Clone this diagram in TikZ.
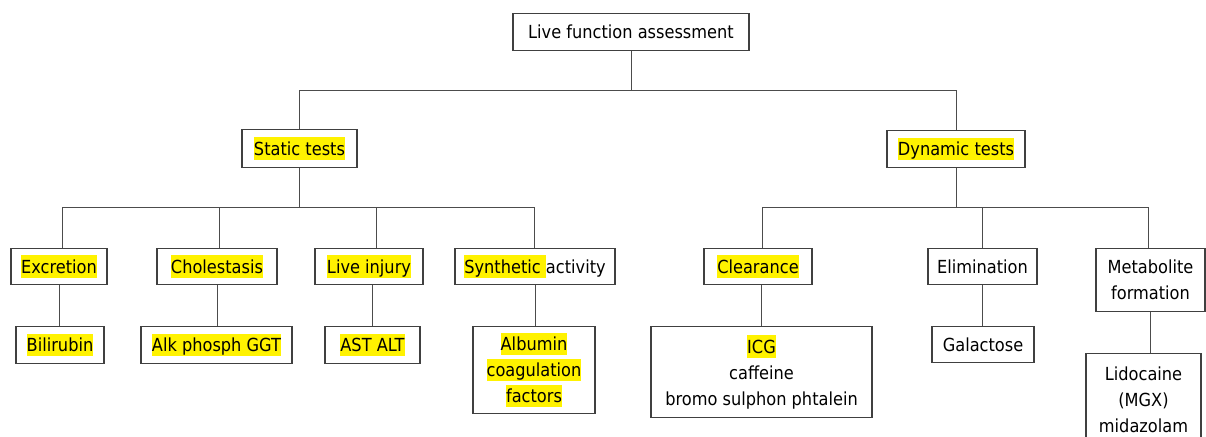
\documentclass[tikz,border=0pt]{standalone}
\usepackage{fontspec}
\setmainfont{DejaVu Sans}[FakeStretch=0.9]
\usepackage{xcolor}
\newcommand\hlt[1]{\begingroup\setlength{\fboxsep}{0pt}\colorbox{yellow}{\rule[-4.5pt]{0pt}{22.5pt}#1}\endgroup}
\tikzset{
  box/.style={draw=black!75, line width=1.1pt, fill=white, inner sep=0pt, align=center,
    font=\fontsize{18}{26}\selectfont, anchor=north},
  link/.style={draw=black!70, line width=1pt}
}
\begin{document}
\begin{tikzpicture}[x=1pt,y=-1pt]
\useasboundingbox (0,0) rectangle (1206,436);
\fill[white] (0,0) rectangle (1206,436);
\clip (0,0) rectangle (1206,436);

% level 0
\node[box, minimum width=236pt, minimum height=37pt] (top) at (631,13) {Live function assessment};
% level 1
\node[box, minimum width=115pt, minimum height=38pt] (static) at (299.5,129) {\hlt{Static tests}};
\node[box, minimum width=138pt, minimum height=37pt] (dynamic) at (956,130) {\hlt{Dynamic tests}};
% level 2
\node[box, minimum width=96pt, minimum height=36pt] (excr) at (59,248) {\hlt{Excretion}};
\node[box, minimum width=120pt, minimum height=36pt] (chol) at (217,248) {\hlt{Cholestasis}};
\node[box, minimum width=108pt, minimum height=36pt] (liveinj) at (369,248) {\hlt{Live injury}};
\node[box, minimum width=160pt, minimum height=36pt] (synth) at (535,248) {\hlt{Synthetic\ }activity};
\node[box, minimum width=108pt, minimum height=36pt] (clear) at (758,248) {\hlt{Clearance}};
\node[box, minimum width=109pt, minimum height=36pt] (elim) at (982.5,248) {Elimination};
\node[box, minimum width=109pt, minimum height=63pt] (metab) at (1150.5,248) {Metabolite\\formation};
% level 3
\node[box, minimum width=88pt, minimum height=37pt] (bili) at (60,326) {\hlt{Bilirubin}};
\node[box, minimum width=151pt, minimum height=37pt] (alk) at (216.5,326) {\hlt{Alk phosph GGT}};
\node[box, minimum width=95pt, minimum height=37pt] (ast) at (372.5,326) {\hlt{AST ALT}};
\node[box, minimum width=122pt, minimum height=87pt] (alb) at (534,326) {\hlt{Albumin}\\\hlt{coagulation}\\\hlt{factors}};
\node[box, minimum width=221pt, minimum height=91pt] (icg) at (761.5,326) {\hlt{ICG}\\caffeine\\bromo sulphon phtalein};
\node[box, minimum width=102pt, minimum height=36pt] (gal) at (983,326) {Galactose};
\node[box, minimum width=115pt, minimum height=92pt] (lido) at (1143.5,353) {Lidocaine\\(MGX)\\midazolam};

% connectors level 0-1
\draw[link] (top.south) -- ++(0,39) coordinate (b1);
\draw[link] (static.north) |- (b1) -| (dynamic.north);
% static branch
\draw[link] (static.south) -- ++(0,40);
\draw[link] ([xshift=3pt]excr.north) -- ++(0,-41) -| ([xshift=-1pt]synth.north);
\draw[link] ([xshift=2pt]chol.north) -- ++(0,-41);
\draw[link] ([xshift=7pt]liveinj.north) -- ++(0,-41);
% dynamic branch
\draw[link] (dynamic.south) -- ++(0,40);
\draw[link] ([xshift=4pt]clear.north) -- ++(0,-41) -| ([xshift=-2.5pt]metab.north);
\draw[link] (elim.north) -- ++(0,-41);
% level 2-3
\draw[link] (excr.south) -- (excr.south |- bili.north);
\draw[link] (chol.south) -- (chol.south |- alk.north);
\draw[link] (ast.north) -- (ast.north |- liveinj.south);
\draw[link] (synth.south) -- (synth.south |- alb.north);
\draw[link] (icg.north) -- (icg.north |- clear.south);
\draw[link] (elim.south) -- (elim.south |- gal.north);
\draw[link] (metab.south) -- (metab.south |- lido.north);
\end{tikzpicture}
\end{document}
